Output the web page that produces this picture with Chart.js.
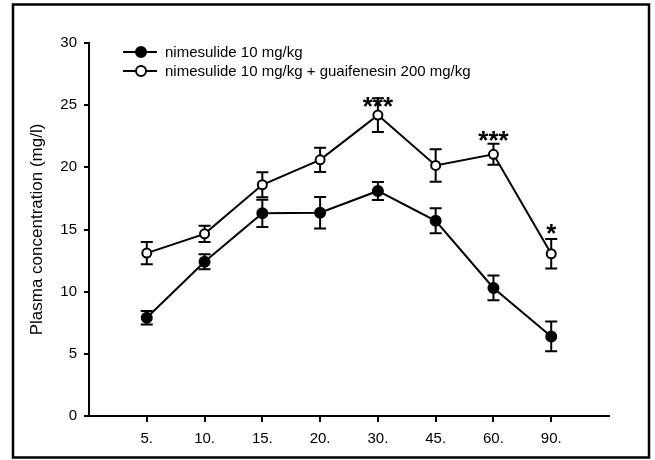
<!DOCTYPE html>
<html>
<head>
<meta charset="utf-8">
<script src="https://cdn.jsdelivr.net/npm/chart.js@4/dist/chart.umd.min.js"></script>
<style>
  html, body { margin: 0; padding: 0; background: #fff; }
  #wrap { width: 655px; height: 460px; position: relative; }
</style>
</head>
<body>
<div id="wrap"><canvas id="pk"></canvas></div>
<script>
// sampling times (min) shown on the x axis
var timeLabels = ['5.', '10.', '15.', '20.', '30.', '45.', '60.', '90.'];

// plasma concentration (mg/l), mean and SEM
var nimesulide    = [7.9, 12.4, 16.3, 16.35, 18.1, 15.7, 10.3, 6.4];
var nimesulideSem = [0.55, 0.6, 1.1, 1.27, 0.73, 1.0, 1.0, 1.2];
var combo         = [13.1, 14.65, 18.6, 20.6, 24.2, 20.15, 21.05, 13.05];
var comboSem      = [0.9, 0.65, 1.0, 0.97, 1.35, 1.3, 0.85, 1.18];

// significance marks above the combo series
var starMarks  = ['', '', '', '', '***', '', '***', '*'];
var starLevels = [0, 0, 0, 0, 25.2, 0, 22.45, 15.0];

var seriesNames = ['nimesulide 10 mg/kg', 'nimesulide 10 mg/kg + guaifenesin 200 mg/kg'];

function toPoints(arr) {
	return arr.map(function (v, i) { return { x: i + 1, y: v }; });
}

var FONT = '"Liberation Sans", Arial, sans-serif';

var frameAndExtras = {
	id: 'frameAndExtras',
	beforeDatasetsDraw: function (chart) {
		var ctx = chart.ctx, xs = chart.scales.x, ys = chart.scales.y;
		var sems = [nimesulideSem, comboSem];
		ctx.save();
		ctx.strokeStyle = '#000';
		ctx.lineWidth = 2;
		chart.data.datasets.forEach(function (ds, di) {
			ds.data.forEach(function (p, i) {
				var x = xs.getPixelForValue(p.x);
				var yTop = ys.getPixelForValue(p.y + sems[di][i]);
				var yBot = ys.getPixelForValue(p.y - sems[di][i]);
				ctx.beginPath();
				ctx.moveTo(x, yTop); ctx.lineTo(x, yBot);
				ctx.moveTo(x - 6, yTop); ctx.lineTo(x + 6, yTop);
				ctx.moveTo(x - 6, yBot); ctx.lineTo(x + 6, yBot);
				ctx.stroke();
			});
		});
		ctx.restore();
	},
	afterDraw: function (chart) {
		var ctx = chart.ctx, xs = chart.scales.x, ys = chart.scales.y, area = chart.chartArea;
		ctx.save();
		// outer frame
		ctx.strokeStyle = '#000';
		ctx.lineWidth = 2.5;
		ctx.strokeRect(13, 4.5, 636, 453);

		// stars
		ctx.fillStyle = '#000';
		ctx.font = 'bold 26px ' + FONT;
		ctx.textAlign = 'center';
		ctx.textBaseline = 'alphabetic';
		starMarks.forEach(function (s, i) {
			if (!s) return;
			var x = xs.getPixelForValue(i + 1);
			var y = ys.getPixelForValue(starLevels[i]);
			ctx.fillText(s, x, y + 12);
		});

		// legend: line with marker through it
		var lx = area.left + 34, ly = area.top + 9;
		ctx.font = '15px ' + FONT;
		ctx.textAlign = 'left';
		ctx.textBaseline = 'middle';
		chart.data.datasets.forEach(function (ds, di) {
			var y = ly + di * 19;
			ctx.lineWidth = 2;
			ctx.beginPath();
			ctx.moveTo(lx, y); ctx.lineTo(lx + 34, y);
			ctx.stroke();
			ctx.beginPath();
			ctx.arc(lx + 18, y, 5, 0, Math.PI * 2);
			ctx.fillStyle = ds.pointBackgroundColor;
			ctx.fill();
			ctx.stroke();
			ctx.fillStyle = '#000';
			ctx.fillText(ds.label, lx + 42, y + 1);
		});
		ctx.restore();
	}
};

new Chart(document.getElementById('pk'), {
	type: 'line',
	data: {
		datasets: [{
			label: seriesNames[0],
			data: toPoints(nimesulide),
			borderColor: '#000',
			borderWidth: 2,
			pointRadius: 5,
			pointBorderWidth: 2,
			pointBackgroundColor: '#000',
			pointBorderColor: '#000',
			tension: 0
		}, {
			label: seriesNames[1],
			data: toPoints(combo),
			borderColor: '#000',
			borderWidth: 2,
			pointRadius: 4.5,
			pointBorderWidth: 2,
			pointBackgroundColor: '#fff',
			pointBorderColor: '#000',
			tension: 0
		}]
	},
	options: {
		responsive: true,
		maintainAspectRatio: false,
		animation: false,
		layout: { padding: { left: 0, top: 43, right: 46, bottom: 0 } },
		plugins: {
			legend: { display: false },
			tooltip: { enabled: false }
		},
		scales: {
			x: {
				type: 'linear',
				min: 0,
				max: 9,
				afterBuildTicks: function (axis) {
					axis.ticks = timeLabels.map(function (l, i) { return { value: i + 1 }; });
				},
				afterFit: function (axis) { axis.height = 44; },
				ticks: {
					color: '#000',
					font: { family: FONT, size: 15 },
					padding: 8,
					maxRotation: 0,
					autoSkip: false,
					callback: function (v) { return timeLabels[v - 1] || ''; }
				},
				grid: { drawOnChartArea: false, color: '#000', lineWidth: 2, tickLength: 6 },
				border: { color: '#000', width: 2 }
			},
			y: {
				min: 0,
				max: 30,
				afterFit: function (axis) { axis.width = 89; },
				ticks: {
					stepSize: 5,
					color: '#000',
					font: { family: FONT, size: 15 },
					padding: 7
				},
				grid: { drawOnChartArea: false, color: '#000', lineWidth: 2, tickLength: 5 },
				border: { color: '#000', width: 2 },
				title: {
					display: true,
					text: 'Plasma concentration (mg/l)',
					color: '#000',
					font: { family: FONT, size: 17 },
					padding: { top: 27, bottom: 0 }
				}
			}
		}
	},
	plugins: [frameAndExtras]
});
</script>
</body>
</html>
